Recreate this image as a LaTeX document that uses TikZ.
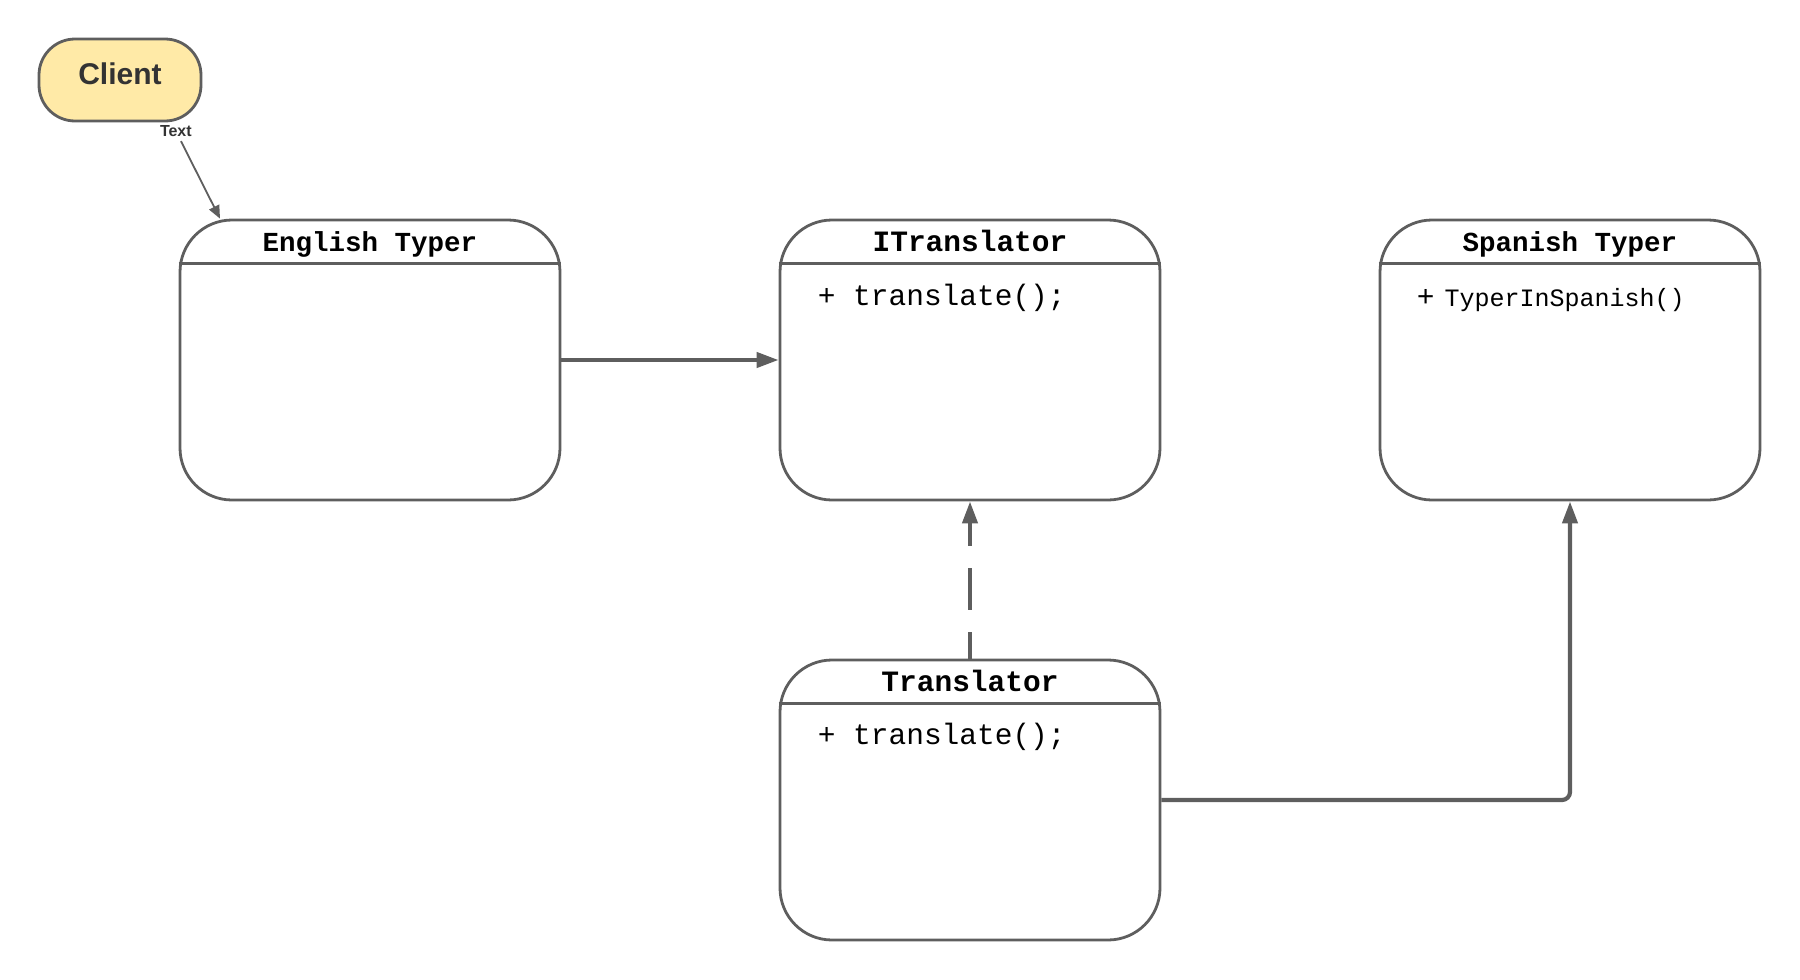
\documentclass[tikz,border=0pt]{standalone}
\usepackage{fontspec}
\setmainfont{Liberation Sans}
\setmonofont{Liberation Mono}
\usetikzlibrary{arrows.meta,calc}
\definecolor{linegray}{HTML}{5E5E5E}
\definecolor{clientfill}{HTML}{FFEAA7}
\definecolor{clienttext}{HTML}{333333}
\tikzset{
  classbox/.style={draw=linegray, line width=2.8pt, rounded corners=52pt,
    minimum width=380pt, minimum height=280pt, inner sep=0pt},
  headerline/.style={draw=linegray, line width=2.8pt},
  titletext/.style={font=\ttfamily\bfseries\fontsize{27.5pt}{32pt}\selectfont, inner sep=0pt, anchor=base},
  titlebig/.style={titletext, font=\ttfamily\bfseries\fontsize{29.5pt}{34pt}\selectfont},
  bodytext/.style={font=\ttfamily\fontsize{29.5pt}{34pt}\selectfont, inner sep=0pt, anchor=base west},
  bodysmall/.style={bodytext, font=\ttfamily\fontsize{25pt}{30pt}\selectfont},
  clientbox/.style={draw=linegray, line width=2.8pt, fill=clientfill, rounded corners=36pt,
    minimum width=162pt, minimum height=82pt, text height=22pt, text depth=12.5pt,
    font=\bfseries\fontsize{30pt}{36pt}\selectfont, text=clienttext, inner sep=0pt},
  thinarrow/.style={draw=linegray, line width=1.8pt, -{Triangle[length=13pt,width=11pt]}},
  thickarrow/.style={draw=linegray, line width=4.2pt, -{Triangle[length=22pt,width=15pt]}},
  dashedarrow/.style={thickarrow, dash pattern=on 42pt off 22pt, dash phase=15pt},
}
\begin{document}
\begin{tikzpicture}[x=1pt, y=-1pt]
\useasboundingbox (0,0) rectangle (1800,980);

% class boxes
\node[classbox] (eng) at (370,360) {};
\node[classbox] (itr) at (970,360) {};
\node[classbox] (spa) at (1570,360) {};
\node[classbox] (trn) at (970,800) {};

\foreach \b in {eng,itr,spa,trn}{
  \draw[headerline] ($(\b.north west)+(0,45)$) -- ($(\b.north east)+(0,45)$);
}

% titles
\node[titletext] (eng-t) at ($(eng.north)+(0,33)$) {English Typer};
\node[titlebig] (itr-t) at ($(itr.north)+(0,33)$) {ITranslator};
\node[titletext] (spa-t) at ($(spa.north)+(0,33)$) {Spanish Typer};
\node[titlebig] (trn-t) at ($(trn.north)+(0,33)$) {Translator};

% bodies
\node[bodytext] (itr-b) at ($(itr.north west)+(39,87)$) {+ translate();};
\node[bodysmall] (spa-b) at ($(spa.north west)+(38,88)$) {{\fontsize{29.5pt}{34pt}\selectfont+}\hspace{10pt}TyperInSpanish()};
\node[bodytext] (trn-b) at ($(trn.north west)+(39,86)$) {+ translate();};

% client
\node[clientbox] (client) at (120,80) {Client};

% connectors
\draw[thinarrow, shorten <=21pt] ([xshift=51.5pt]client.south) --
  node[pos=0.09, font=\bfseries\fontsize{16pt}{18pt}\selectfont, text=clienttext, inner sep=0pt] (lbl) {Text}
  ([xshift=-150pt]eng.north);
\draw[thickarrow] (eng.east) -- (itr.west);
\draw[dashedarrow] (trn.north) -- (itr.south);
\draw[thickarrow, rounded corners=8pt] (trn.east) -| (spa.south);
\end{tikzpicture}
\end{document}
